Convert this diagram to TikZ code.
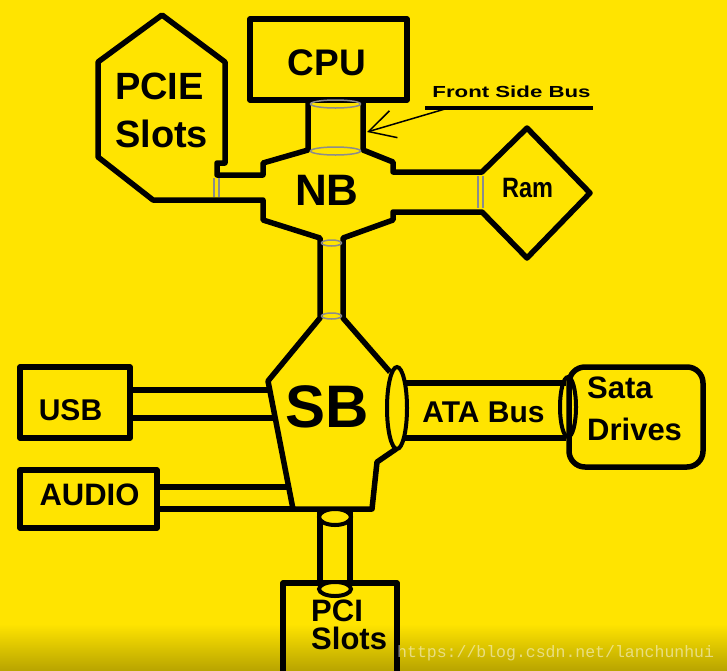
\documentclass[tikz,border=0pt]{standalone}
\usepackage{fontspec}
\setmainfont{Liberation Sans}
\setmonofont{Liberation Mono}
\usetikzlibrary{arrows.meta}
\definecolor{chipyellow}{RGB}{255,228,0}
\definecolor{shadeyellow}{RGB}{185,165,0}

\begin{document}
\begin{tikzpicture}[x=1pt,y=-1pt,
		every node/.style={inner sep=0pt},
		lbl/.style={font=\fontsize{#1}{#1}\selectfont\bfseries},
		outline/.style={draw,line width=5.5pt,line join=round},
		ring/.style={draw,line width=4pt},
		rim/.style={draw=black!45,line width=1.5pt}]
	\useasboundingbox (0,0) rectangle (727,670);
	\fill[chipyellow] (0,0) rectangle (727,670);
	\shade[top color=chipyellow,bottom color=shadeyellow] (0,624) rectangle (727,670);
	
	% boxes
	\node[outline,minimum width=157pt,minimum height=81pt] (cpu) at (328.5,59.5) {};
	\node[outline,minimum width=110pt,minimum height=71pt] (usb) at (75,402.5) {};
	\node[outline,minimum width=137pt,minimum height=58pt] (audio) at (88.5,499) {};
	\node[outline,rounded corners=16pt,minimum width=134pt,minimum height=100pt] (sata) at (636,417) {};
	
	% pcie, north bridge and south bridge, left side
	\draw[outline] (308,100) -- (308,150) -- (263,163) -- (263,175) -- (217,175)
		-- (217,163) -- (225,163) -- (225,62) -- (162,15) -- (98,62) -- (98,157) -- (153,200)
		-- (263,200) -- (263,220) -- (320,238) -- (320,318) -- (268,381) -- (293,509)
		-- (372,509) -- (377,462) -- (396,449);
	% right side, ram
	\draw[outline] (363,100) -- (363,150) -- (393,162) -- (393,172) -- (482,172)
		-- (527,128) -- (590,193) -- (527,258) -- (482,212) -- (393,212) -- (393,220)
		-- (343,238) -- (343,318) -- (390,372);
	
	% usb and audio
	\coordinate (sbusbA) at (270,390);
	\coordinate (sbusbB) at (275,418);
	\coordinate (sbaudioA) at (289,487);
	\coordinate (sbaudioB) at (293,509);
	\draw[outline] (usb.east |- sbusbA) -- (sbusbA);
	\draw[outline] (usb.east |- sbusbB) -- (sbusbB);
	\draw[outline] (audio.east |- sbaudioA) -- (sbaudioA);
	\draw[outline] (audio.east |- sbaudioB) -- (sbaudioB);
	
	% ata
	\coordinate (ataA) at (405,383);
	\coordinate (ataB) at (405,438);
	\draw[outline] (ataA) -- (sata.west |- ataA);
	\draw[outline] (ataB) -- (sata.west |- ataB);
	\draw[ring] (397,408) ellipse (10pt and 41pt);
	\draw[ring] (568,407) ellipse (8pt and 30pt);
	
	% pci
	\draw[outline] (320,512) -- (320,585) (350,512) -- (350,585);
	\draw[outline] (283,690) -- (283,583) -- (397,583) -- (397,690);
	\draw[ring,fill=chipyellow] (335,517) ellipse (16pt and 8pt);
	\draw[ring,fill=chipyellow] (335,589) ellipse (16pt and 7pt);
	
	% rims
	\draw[rim] (335.5,104) ellipse (25pt and 4pt) (335.5,151) ellipse (25pt and 4pt);
	\draw[rim] (331.5,243) ellipse (10pt and 3pt) (331.5,316) ellipse (10pt and 3pt);
	\draw[rim] (214,178) -- (214,197) (219,178) -- (219,197);
	\draw[rim] (478,176) -- (478,208) (483,176) -- (483,208);
	
	% labels
	\node[lbl=37] (cpulbl) at (327,62.5) {CPU};
	\node[font=\fontsize{38}{48}\selectfont\bfseries,align=left,anchor=west] (pcie) at (115,110) {PCIE\\Slots};
	\node[lbl=44] (nb) at (327,190) {NB};
	\node[lbl=28] (ram) at (527.5,188) {\scalebox{0.84}[1]{Ram}};
	\node[lbl=60] (sb) at (327.5,406.5) {SB};
	\node[lbl=30] (usblbl) at (70.5,410) {USB};
	\node[lbl=31] (audiolbl) at (89.5,495) {AUDIO};
	\node[lbl=30] (ata) at (483.5,412.5) {ATA Bus};
	\node[font=\fontsize{31}{42}\selectfont\bfseries,align=left,anchor=west] (satalbl) at (587,409) {Sata\\Drives};
	\node[font=\fontsize{31}{28}\selectfont\bfseries,align=left,anchor=west] (pci) at (311,625) {PCI\\Slots};
	\node[lbl=16] (fsb) at (511.5,91.5) {\scalebox{1.39}[1]{Front Side Bus}};
	
	% front side bus pointer
	\coordinate (ulA) at (425,108);
	\coordinate (ulB) at (593,108);
	\coordinate (ulC) at (445,109);
	\coordinate (fsbtip) at (367,132);
	\draw[line width=4pt] (ulA) -- (ulB);
	\draw[line width=1.5pt,-{Straight Barb[length=26pt,width=28pt]}] (ulC) -- (fsbtip);
	
	\node[font=\ttfamily\fontsize{16.5}{16.5}\selectfont,text=white,opacity=0.5,anchor=base west] (mark) at (397,657) {https://blog.csdn.net/lanchunhui};
\end{tikzpicture}
\end{document}
